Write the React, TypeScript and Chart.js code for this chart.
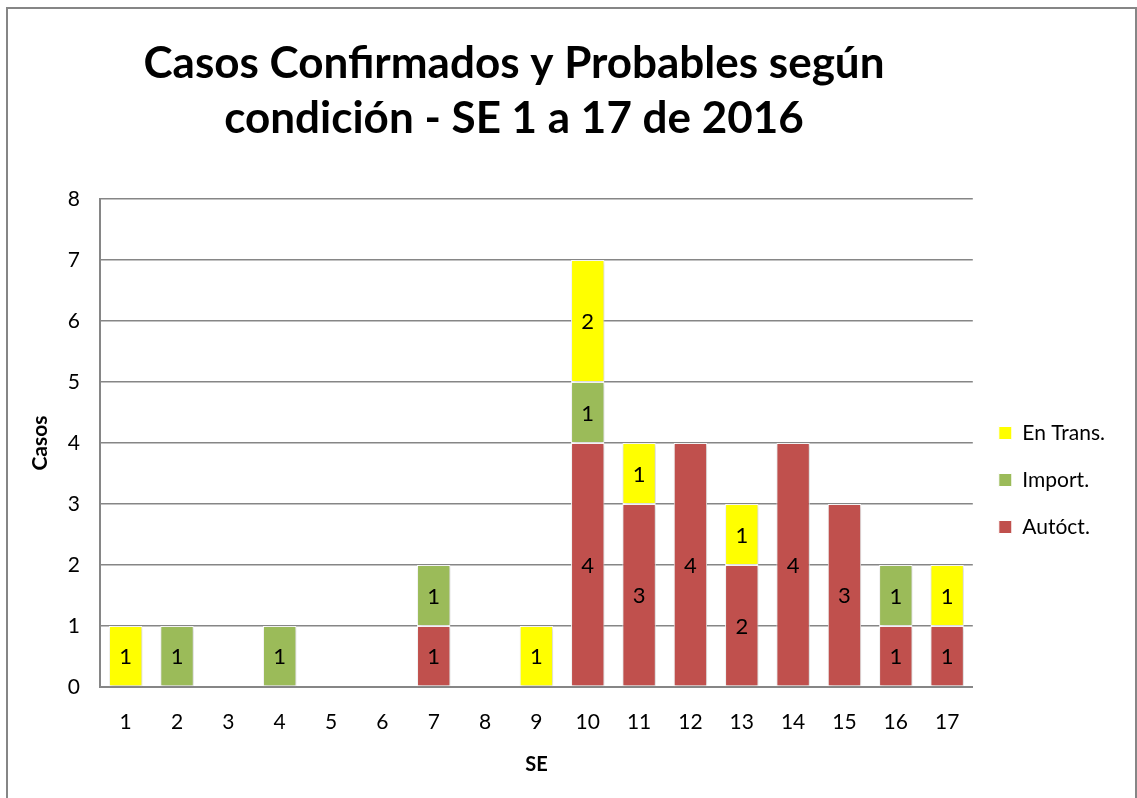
import React, { useEffect, useRef } from 'react';
import { Chart, registerables } from 'chart.js';

Chart.register(...registerables);

const categories = ['1', '2', '3', '4', '5', '6', '7', '8', '9', '10', '11', '12', '13', '14', '15', '16', '17'];
const autoctona = [0, 0, 0, 0, 0, 0, 1, 0, 0, 4, 3, 4, 2, 4, 3, 1, 1];
const importado = [0, 1, 0, 1, 0, 0, 1, 0, 0, 1, 0, 0, 0, 0, 0, 1, 0];
const enTransito = [1, 0, 0, 0, 0, 0, 0, 0, 1, 2, 1, 0, 1, 0, 0, 0, 1];
const seriesNames = ['Autóct.', 'Import.', 'En Trans.'];
const titleLines = ['Casos Confirmados y Probables según', 'condición - SE 1 a 17 de 2016'];
const yAxisTitle = 'Casos';
const xAxisTitle = 'SE';

const FONT = 'Lato, Calibri, Carlito, sans-serif';
const GRID = '#868686';

const framePlugin = {
  id: 'frame',
  beforeDraw(chart: any) {
    const ctx = chart.ctx;
    ctx.save();
    ctx.fillStyle = '#ffffff';
    ctx.fillRect(0, 0, chart.width, chart.height);
    ctx.strokeStyle = GRID;
    ctx.lineWidth = 2;
    ctx.strokeRect(7, 8, 1129, 900);
    ctx.restore();
  },
};

const titlePlugin = {
  id: 'customTitle',
  afterDraw(chart: any) {
    const ctx = chart.ctx;
    ctx.save();
    ctx.fillStyle = '#000';
    ctx.font = `bold 44px ${FONT}`;
    ctx.textAlign = 'center';
    ctx.textBaseline = 'alphabetic';
    ctx.fillText(titleLines[0], 514, 78);
    ctx.fillText(titleLines[1], 514, 133);
    ctx.restore();
  },
};

const shadowPlugin = {
  id: 'barShadow',
  beforeDatasetsDraw(chart: any) {
    const ctx = chart.ctx;
    ctx.save();
    ctx.shadowColor = 'rgba(0,0,0,0.22)';
    ctx.shadowBlur = 4;
    ctx.shadowOffsetX = 1;
    ctx.shadowOffsetY = 1;
  },
  afterDatasetsDraw(chart: any) {
    chart.ctx.restore();
  },
};

const labelPlugin = {
  id: 'segLabels',
  afterDatasetsDraw(chart: any) {
    const ctx = chart.ctx;
    ctx.save();
    ctx.shadowColor = 'transparent';
    ctx.fillStyle = '#000';
    ctx.font = `22px ${FONT}`;
    ctx.textAlign = 'center';
    ctx.textBaseline = 'middle';
    chart.data.datasets.forEach((ds: any, di: number) => {
      const meta = chart.getDatasetMeta(di);
      meta.data.forEach((el: any, i: number) => {
        const v = ds.data[i];
        if (v) {
          ctx.fillText(String(v), el.x, (el.y + el.base) / 2 + 1);
        }
      });
    });
    ctx.restore();
  },
};

export default function App() {
  const ref = useRef<HTMLCanvasElement>(null);
  useEffect(() => {
    if (!ref.current) return;
    const toBar = (arr: number[]) => arr.map((v) => (v === 0 ? null : v));
    const common = {
      borderColor: '#ffffff',
      borderWidth: 1,
      borderSkipped: false,
      categoryPercentage: 1,
      barPercentage: 0.65,
    };
    const chart = new Chart(ref.current, {
      type: 'bar',
      data: {
        labels: categories,
        datasets: [
          { label: seriesNames[0], data: toBar(autoctona), backgroundColor: '#C0504D', ...common },
          { label: seriesNames[1], data: toBar(importado), backgroundColor: '#9BBB59', ...common },
          { label: seriesNames[2], data: toBar(enTransito), backgroundColor: '#FFFF00', ...common },
        ] as any,
      },
      options: {
        responsive: false,
        animation: false,
        layout: { padding: { top: 199, bottom: 37, left: 8, right: 22 } },
        plugins: {
          title: { display: false },
          tooltip: { enabled: false },
          legend: {
            position: 'right',
            reverse: true,
            labels: {
              font: { family: FONT, size: 21 },
              color: '#000',
              boxWidth: 13,
              boxHeight: 13,
              padding: 26,
            },
          },
        },
        scales: {
          x: {
            stacked: true,
            grid: { display: false, drawTicks: false },
            border: { display: true, color: GRID, width: 2 },
            ticks: { font: { family: FONT, size: 21 }, color: '#000', padding: 23, maxRotation: 0 },
            title: { display: true, text: xAxisTitle, font: { family: FONT, size: 20, weight: 'bold' }, color: '#000', padding: -16 },
            afterFit: (s: any) => { s.height = 74; },
          },
          y: {
            stacked: true,
            min: 0,
            max: 8,
            ticks: { stepSize: 1, font: { family: FONT, size: 21 }, color: '#000', padding: 20 },
            grid: { color: GRID, lineWidth: 1.5, drawTicks: false },
            border: { display: true, color: GRID, width: 2 },
            title: { display: true, text: yAxisTitle, font: { family: FONT, size: 21, weight: 'bold' }, color: '#000', padding: 20 },
            afterFit: (s: any) => { s.width = 92; },
          },
        },
      } as any,
      plugins: [framePlugin, shadowPlugin, labelPlugin, titlePlugin],
    });
    return () => chart.destroy();
  }, []);
  return (
    <div style={{ position: 'fixed', left: 0, top: 0, width: 1137, height: 798 }}>
      <canvas ref={ref} width={1137} height={798} style={{ display: 'block' }} />
    </div>
  );
}
